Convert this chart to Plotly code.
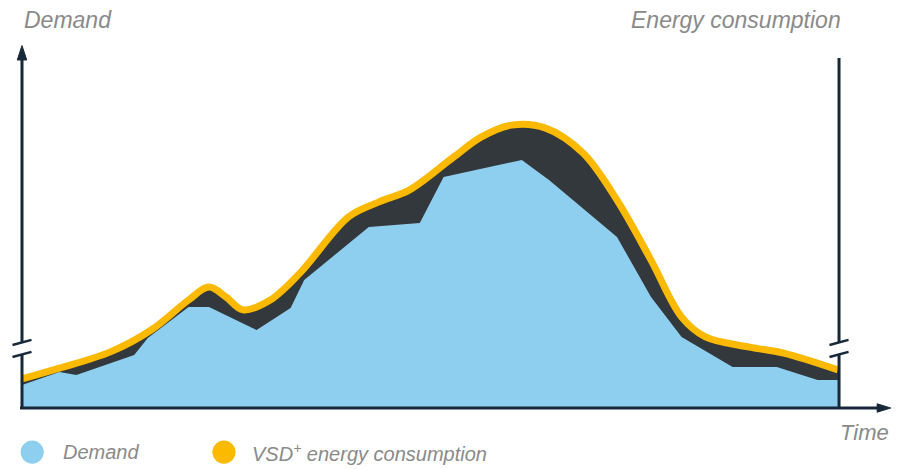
import plotly.graph_objects as go

# ---- data (time in hours, values in relative units) ----
hours = [0, 1.1, 1.6, 3.3, 3.7, 4.9, 5.5, 6.9, 7.9, 8.3, 10.2, 11.7, 12.4, 14.7,
         15.5, 17.5, 18.5, 19.4, 20.9, 22.2, 23.4, 24]
demand = [7.7, 12, 11, 17.7, 23.3, 33.7, 33.7, 26, 33.3, 42.7, 60.3, 61.7, 77, 82.7,
          76, 57, 37, 23.7, 13.7, 13.7, 9.3, 9.3]

energy_hours = [0, 1.1, 2.6, 3.8, 4.9, 5.5, 6.0, 6.5, 7.3, 8.2, 9.6, 10.5, 11.4, 12.7,
                13.5, 14.4, 15.4, 16.5, 17.5, 18.5, 19.4, 20.1, 21.4, 22.4, 24]
energy = [9.7, 13.3, 18.7, 26, 36, 40.3, 37, 32.7, 36, 45.3, 63.7, 68.7, 72.7, 83.7,
          90.3, 94.3, 93.3, 85, 69.3, 49.3, 30.3, 23.7, 20.3, 18.3, 12.7]

labels = {"left": "Demand", "right": "Energy consumption", "x": "Time"}
legend_names = ["Demand", "VSD<sup>+</sup> energy consumption"]

BLUE = "#8ECFF0"
DARK = "#33383C"
YELLOW = "#FBBA00"
AXIS = "#16283A"
GREY = "#8A8A8A"
FONT = "Liberation Sans, Arial, sans-serif"

fig = go.Figure()
fig.add_trace(go.Scatter(x=energy_hours, y=energy, mode="lines",
                         line=dict(shape="spline", smoothing=1, width=0, color=DARK),
                         fill="tozeroy", fillcolor=DARK, hoverinfo="skip", showlegend=False))
fig.add_trace(go.Scatter(x=hours, y=demand, mode="lines", name=legend_names[0],
                         line=dict(width=0, color=BLUE),
                         fill="tozeroy", fillcolor=BLUE, showlegend=False))
fig.add_trace(go.Scatter(x=energy_hours, y=energy, mode="lines", name=legend_names[1],
                         line=dict(shape="spline", smoothing=1, width=7, color=YELLOW),
                         showlegend=False))

shapes = []
def seg(x0, y0, x1, y1, w=3):
    shapes.append(dict(type="line", x0=x0, y0=y0, x1=x1, y1=y1, xref="x", yref="y",
                       line=dict(color=AXIS, width=w), layer="above"))

xl, xr = 0, 24.03
brk_lo, brk_hi = 17.8, 21.8
# left axis
seg(xl, 0, xl, brk_lo)
seg(xl, brk_hi, xl, 117)
shapes.append(dict(type="path", xref="x", yref="y", layer="above",
                   path=f"M {xl-0.14},116 L {xl+0.14},116 L {xl},120.8 Z",
                   fillcolor=AXIS, line=dict(color=AXIS, width=1)))
# right axis
seg(xr, 0, xr, brk_lo)
seg(xr, brk_hi, xr, 116.7)
# break marks
for xa in (xl, xr):
    seg(xa - 0.28, brk_lo - 0.8, xa + 0.28, brk_lo + 0.9, w=2.5)
    seg(xa - 0.28, brk_hi - 0.8, xa + 0.28, brk_hi + 0.9, w=2.5)
# x axis
seg(-0.06, 0, 25.2, 0)
shapes.append(dict(type="path", xref="x", yref="y", layer="above",
                   path="M 25.15,-1.4 L 25.15,1.4 L 25.55,0 Z",
                   fillcolor=AXIS, line=dict(color=AXIS, width=1)))
# legend symbols
for cx, col in ((0.30, BLUE), (5.94, YELLOW)):
    shapes.append(dict(type="circle", xref="x", yref="y", x0=cx - 0.34, x1=cx + 0.34,
                       y0=-14.7 - 3.85, y1=-14.7 + 3.85, fillcolor=col,
                       line=dict(width=0)))

annotations = [
    dict(x=0, y=129.3, text=f"<i>{labels['left']}</i>", xanchor="left", yanchor="middle",
         font=dict(size=23, color=GREY, family=FONT)),
    dict(x=24.15, y=129.3, text=f"<i>{labels['right']}</i>", xanchor="right", yanchor="middle",
         font=dict(size=23, color=GREY, family=FONT)),
    dict(x=24.0, y=-8.3, text=f"<i>{labels['x']}</i>", xanchor="left", yanchor="middle",
         font=dict(size=22, color=GREY, family=FONT)),
    dict(x=1.15, y=-14.7, text=f"<i>{legend_names[0]}</i>", xanchor="left", yanchor="middle",
         font=dict(size=20, color=GREY, family=FONT)),
    dict(x=6.7, y=-14.7, text=f"<i>{legend_names[1]}</i>", xanchor="left", yanchor="middle",
         font=dict(size=20, color=GREY, family=FONT)),
]
for a in annotations:
    a.update(xref="x", yref="y", showarrow=False)

fig.update_layout(
    width=912, height=469, margin=dict(l=0, r=0, t=0, b=0),
    paper_bgcolor="white", plot_bgcolor="white",
    xaxis=dict(range=[-0.647, 26.176], visible=False, fixedrange=True),
    yaxis=dict(range=[-20.333, 136], visible=False, fixedrange=True),
    shapes=shapes, annotations=annotations, showlegend=False,
)
fig.write_html("out.html", config={"displayModeBar": False},
               post_script="document.body.style.margin='0';document.body.style.overflow='hidden';")
